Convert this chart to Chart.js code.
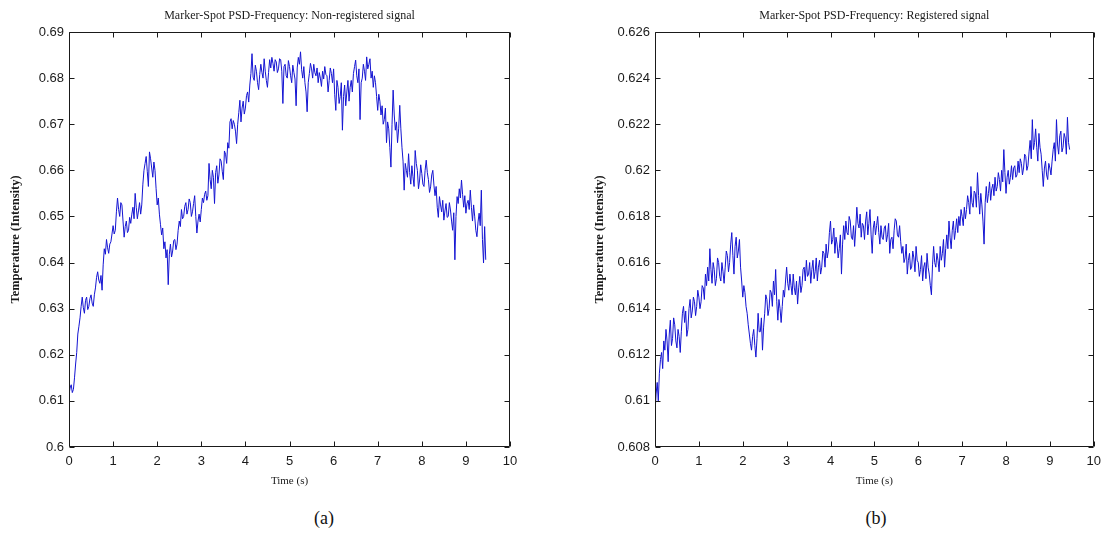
<!DOCTYPE html>
<html>
<head>
<meta charset="utf-8">
<script src="https://cdn.jsdelivr.net/npm/chart.js@4.4.1/dist/chart.umd.min.js"></script>
<style>
  html, body { margin: 0; padding: 0; background: #fff; }
  body { width: 1108px; height: 533px; position: relative; overflow: hidden; }
  .wrap { position: absolute; top: 0; width: 554px; height: 490px; }
  .cap { position: absolute; top: 518px; transform: translate(-50%, -50%);
         font-family: "Liberation Serif", "Times New Roman", serif; font-size: 18px; color: #111; }
</style>
</head>
<body>
<div class="wrap" style="left:0"><canvas id="chartA" width="554" height="490"></canvas></div>
<div class="wrap" style="left:554px"><canvas id="chartB" width="554" height="490"></canvas></div>
<div class="cap" style="left:324px">(a)</div>
<div class="cap" style="left:876px">(b)</div>
<script>
// ---- data ----
const timeStep = 0.025; // s, sampling interval of the plotted signals
const titleA = "Marker-Spot PSD-Frequency: Non-registered signal";
const titleB = "Marker-Spot PSD-Frequency: Registered signal";
const xTitle = "Time (s)";
const yTitle = "Temperature (Intensity)";
const xTicks = [0, 1, 2, 3, 4, 5, 6, 7, 8, 9, 10];
const yTicksA = [0.6, 0.61, 0.62, 0.63, 0.64, 0.65, 0.66, 0.67, 0.68, 0.69];
const yTicksB = [0.608, 0.61, 0.612, 0.614, 0.616, 0.618, 0.62, 0.622, 0.624, 0.626];

const nonRegistered = [
  0.6115,0.6128,0.6135,0.6118,0.6125,0.6150,0.6180,0.6205,0.6245,0.6262,0.6280,0.6305,0.6325,0.6302,0.6290,0.6318,0.6325,0.6298,0.6305,0.6322,
  0.6330,0.6312,0.6305,0.6330,0.6345,0.6368,0.6380,0.6362,0.6355,0.6372,0.6340,0.6395,0.6430,0.6418,0.6450,0.6432,0.6420,0.6440,0.6445,0.6462,
  0.6480,0.6462,0.6470,0.6510,0.6540,0.6515,0.6500,0.6530,0.6525,0.6490,0.6455,0.6478,0.6490,0.6465,0.6470,0.6498,0.6485,0.6505,0.6520,0.6495,
  0.6550,0.6520,0.6495,0.6512,0.6530,0.6505,0.6525,0.6570,0.6600,0.6615,0.6630,0.6598,0.6565,0.6640,0.6625,0.6605,0.6585,0.6618,0.6600,0.6560,
  0.6525,0.6540,0.6505,0.6482,0.6460,0.6475,0.6430,0.6445,0.6410,0.6428,0.6352,0.6418,0.6440,0.6412,0.6425,0.6448,0.6450,0.6428,0.6440,0.6470,
  0.6490,0.6478,0.6515,0.6495,0.6500,0.6522,0.6530,0.6505,0.6515,0.6538,0.6530,0.6500,0.6510,0.6528,0.6545,0.6500,0.6464,0.6490,0.6505,0.6488,
  0.6515,0.6540,0.6530,0.6548,0.6555,0.6535,0.6545,0.6615,0.6580,0.6560,0.6600,0.6585,0.6528,0.6595,0.6610,0.6572,0.6590,0.6625,0.6620,0.6598,
  0.6580,0.6642,0.6635,0.6615,0.6660,0.6648,0.6705,0.6712,0.6690,0.6708,0.6700,0.6685,0.6658,0.6700,0.6725,0.6752,0.6705,0.6735,0.6750,0.6722,
  0.6735,0.6762,0.6770,0.6748,0.6785,0.6810,0.6853,0.6802,0.6795,0.6828,0.6815,0.6790,0.6775,0.6808,0.6830,0.6812,0.6800,0.6842,0.6815,0.6795,
  0.6780,0.6812,0.6840,0.6822,0.6845,0.6832,0.6815,0.6840,0.6835,0.6812,0.6820,0.6842,0.6840,0.6815,0.6745,0.6825,0.6830,0.6805,0.6800,0.6838,
  0.6825,0.6805,0.6790,0.6828,0.6812,0.6798,0.6740,0.6822,0.6845,0.6830,0.6857,0.6818,0.6800,0.6825,0.6790,0.6770,0.6727,0.6790,0.6810,0.6832,
  0.6820,0.6800,0.6830,0.6812,0.6805,0.6822,0.6790,0.6812,0.6800,0.6782,0.6815,0.6798,0.6825,0.6808,0.6805,0.6770,0.6795,0.6822,0.6810,0.6790,
  0.6820,0.6765,0.6730,0.6795,0.6780,0.6745,0.6760,0.6790,0.6687,0.6760,0.6785,0.6740,0.6770,0.6795,0.6750,0.6780,0.6795,0.6770,0.6810,0.6825,
  0.6839,0.6805,0.6790,0.6820,0.6710,0.6790,0.6800,0.6830,0.6815,0.6795,0.6846,0.6820,0.6830,0.6842,0.6800,0.6815,0.6780,0.6805,0.6790,0.6760,
  0.6730,0.6765,0.6750,0.6720,0.6740,0.6700,0.6710,0.6735,0.6660,0.6705,0.6690,0.6650,0.6607,0.6700,0.6774,0.6720,0.6687,0.6705,0.6660,0.6690,
  0.6741,0.6690,0.6650,0.6620,0.6557,0.6615,0.6600,0.6585,0.6636,0.6595,0.6570,0.6610,0.6586,0.6565,0.6643,0.6615,0.6600,0.6560,0.6579,0.6612,
  0.6593,0.6570,0.6565,0.6600,0.6622,0.6595,0.6580,0.6552,0.6564,0.6590,0.6600,0.6568,0.6545,0.6565,0.6520,0.6498,0.6543,0.6525,0.6510,0.6535,
  0.6492,0.6512,0.6528,0.6498,0.6500,0.6530,0.6514,0.6490,0.6470,0.6508,0.6406,0.6500,0.6543,0.6528,0.6560,0.6540,0.6579,0.6548,0.6520,0.6545,
  0.6507,0.6528,0.6535,0.6515,0.6557,0.6520,0.6490,0.6525,0.6499,0.6470,0.6456,0.6488,0.6507,0.6480,0.6557,0.6450,0.6399,0.6478,0.6406
];

const registered = [
  0.6095,0.6103,0.6108,0.6100,0.6112,0.6118,0.6121,0.6114,0.6126,0.6122,0.6131,0.6126,0.6117,0.6129,0.6135,0.6124,0.6127,0.6136,0.6133,0.6126,
  0.6123,0.6131,0.6128,0.6121,0.6130,0.6138,0.6141,0.6134,0.6139,0.6128,0.6131,0.6140,0.6144,0.6136,0.6139,0.6145,0.6143,0.6137,0.6141,0.6148,
  0.6145,0.6140,0.6143,0.6150,0.6149,0.6144,0.6155,0.6150,0.6158,0.6152,0.6166,0.6157,0.6151,0.6160,0.6157,0.6150,0.6153,0.6162,0.6160,0.6154,
  0.6152,0.6160,0.6156,0.6151,0.6158,0.6165,0.6163,0.6156,0.6160,0.6168,0.6173,0.6163,0.6155,0.6167,0.6171,0.6162,0.6165,0.6170,0.6158,0.6152,
  0.6145,0.6150,0.6147,0.6141,0.6138,0.6133,0.6129,0.6125,0.6122,0.6128,0.6131,0.6124,0.6119,0.6127,0.6138,0.6130,0.6130,0.6136,0.6122,0.6132,
  0.6138,0.6146,0.6144,0.6137,0.6140,0.6148,0.6147,0.6141,0.6152,0.6146,0.6157,0.6143,0.6135,0.6144,0.6140,0.6134,0.6141,0.6148,0.6145,0.6152,
  0.6158,0.6151,0.6148,0.6155,0.6150,0.6146,0.6155,0.6149,0.6146,0.6152,0.6142,0.6149,0.6154,0.6147,0.6150,0.6157,0.6158,0.6152,0.6161,0.6154,
  0.6155,0.6160,0.6151,0.6157,0.6161,0.6153,0.6156,0.6162,0.6152,0.6158,0.6161,0.6155,0.6158,0.6165,0.6164,0.6158,0.6168,0.6162,0.6165,0.6173,
  0.6178,0.6168,0.6170,0.6175,0.6164,0.6171,0.6168,0.6162,0.6166,0.6172,0.6155,0.6168,0.6176,0.6170,0.6178,0.6173,0.6172,0.6180,0.6178,0.6171,
  0.6170,0.6176,0.6167,0.6175,0.6184,0.6177,0.6175,0.6181,0.6171,0.6177,0.6176,0.6170,0.6178,0.6182,0.6172,0.6177,0.6183,0.6172,0.6164,0.6175,
  0.6178,0.6172,0.6176,0.6180,0.6173,0.6168,0.6176,0.6171,0.6170,0.6175,0.6176,0.6169,0.6172,0.6177,0.6164,0.6170,0.6171,0.6166,0.6174,0.6179,
  0.6178,0.6172,0.6171,0.6176,0.6169,0.6164,0.6167,0.6160,0.6162,0.6168,0.6155,0.6161,0.6164,0.6157,0.6158,0.6165,0.6162,0.6156,0.6167,0.6161,
  0.6160,0.6154,0.6157,0.6163,0.6152,0.6158,0.6160,0.6153,0.6164,0.6158,0.6155,0.6150,0.6146,0.6159,0.6167,0.6160,0.6158,0.6164,0.6161,0.6156,
  0.6167,0.6161,0.6164,0.6170,0.6158,0.6166,0.6172,0.6166,0.6178,0.6171,0.6166,0.6174,0.6178,0.6170,0.6174,0.6179,0.6173,0.6180,0.6176,0.6183,
  0.6180,0.6176,0.6184,0.6179,0.6183,0.6189,0.6186,0.6181,0.6193,0.6186,0.6184,0.6191,0.6190,0.6184,0.6199,0.6189,0.6181,0.6190,0.6185,0.6178,
  0.6168,0.6186,0.6193,0.6186,0.6190,0.6195,0.6187,0.6192,0.6194,0.6189,0.6197,0.6191,0.6193,0.6199,0.6196,0.6191,0.6200,0.6195,0.6209,0.6199,
  0.6190,0.6197,0.6200,0.6194,0.6197,0.6202,0.6196,0.6201,0.6202,0.6197,0.6198,0.6204,0.6199,0.6205,0.6203,0.6198,0.6201,0.6207,0.6206,0.6200,
  0.6202,0.6208,0.6213,0.6205,0.6222,0.6209,0.6212,0.6218,0.6210,0.6204,0.6216,0.6210,0.6207,0.6200,0.6193,0.6201,0.6204,0.6198,0.6196,0.6203,
  0.6201,0.6198,0.6204,0.6209,0.6212,0.6204,0.6222,0.6211,0.6207,0.6215,0.6217,0.6208,0.6210,0.6216,0.6214,0.6207,0.6223,0.6212,0.6209
];

// ---- rendering ----
const SANS = '"Liberation Sans", Arial, sans-serif';
const SERIF = '"Liberation Serif", "Times New Roman", serif';
const INK = '#1a1a1a';

const matlabFrame = {
  id: 'matlabFrame',
  afterDatasetsDraw(chart) {
    const {ctx, chartArea: a, scales: {x, y}} = chart;
    const L = Math.round(a.left) + 0.5, R = Math.round(a.right) - 0.5;
    const T = Math.round(a.top) + 0.5, B = Math.round(a.bottom) - 0.5;
    const len = 5;
    ctx.save();
    ctx.strokeStyle = INK;
    ctx.lineWidth = 1;
    ctx.beginPath();
    ctx.rect(L, T, R - L, B - T);
    x.ticks.forEach(t => {
      const px = Math.round(x.getPixelForValue(t.value)) + 0.5;
      ctx.moveTo(px, B); ctx.lineTo(px, B - len);
      ctx.moveTo(px, T); ctx.lineTo(px, T + len);
    });
    y.ticks.forEach(t => {
      const py = Math.round(y.getPixelForValue(t.value)) + 0.5;
      ctx.moveTo(L, py); ctx.lineTo(L + len, py);
      ctx.moveTo(R, py); ctx.lineTo(R - len, py);
    });
    ctx.stroke();
    ctx.restore();
  }
};

function makeChart(id, title, values, yTicks, yAxisWidth, yTitlePad, rightPad) {
  const points = values.map((v, i) => ({x: +(i * timeStep).toFixed(3), y: v}));
  return new Chart(document.getElementById(id), {
    type: 'line',
    data: {
      datasets: [{
        data: points,
        borderColor: '#1414d2',
        borderWidth: 1,
        pointRadius: 0,
        tension: 0,
        fill: false
      }]
    },
    options: {
      responsive: false,
      animation: false,
      events: [],
      layout: {padding: {left: 0, right: rightPad, top: 0, bottom: 0}},
      plugins: {
        legend: {display: false},
        tooltip: {enabled: false},
        title: {
          display: true,
          text: title,
          fullSize: false,
          color: INK,
          font: {family: SERIF, size: 12, weight: 'normal', lineHeight: 1.2},
          padding: {top: 8.5, bottom: 9.1}
        }
      },
      scales: {
        x: {
          type: 'linear',
          min: xTicks[0],
          max: xTicks[xTicks.length - 1],
          afterBuildTicks: s => { s.ticks = xTicks.map(v => ({value: v})); },
          afterFit: s => { s.height = 43; },
          grid: {display: false, drawTicks: false},
          border: {display: false},
          ticks: {color: INK, font: {family: SANS, size: 13}, padding: 7, maxRotation: 0,
                  callback: v => String(v)},
          title: {display: true, text: xTitle, color: INK,
                  font: {family: SERIF, size: 11, lineHeight: 1.2}, padding: {top: 0, bottom: 2.4}}
        },
        y: {
          type: 'linear',
          min: yTicks[0],
          max: yTicks[yTicks.length - 1],
          afterBuildTicks: s => { s.ticks = yTicks.map(v => ({value: v})); },
          afterFit: s => { s.width = yAxisWidth; },
          grid: {display: false, drawTicks: false},
          border: {display: false},
          ticks: {color: INK, font: {family: SANS, size: 13}, padding: 5,
                  callback: v => String(parseFloat(Number(v).toFixed(4)))},
          title: {display: true, text: yTitle, color: INK,
                  font: {family: SERIF, size: 12.5, weight: 'bold', lineHeight: 1.2},
                  padding: {top: yTitlePad, bottom: 0}}
        }
      }
    },
    plugins: [matlabFrame]
  });
}

makeChart('chartA', titleA, nonRegistered, yTicksA, 69, 8, 44);
makeChart('chartB', titleB, registered, yTicksB, 101, 38, 13);
</script>
</body>
</html>
